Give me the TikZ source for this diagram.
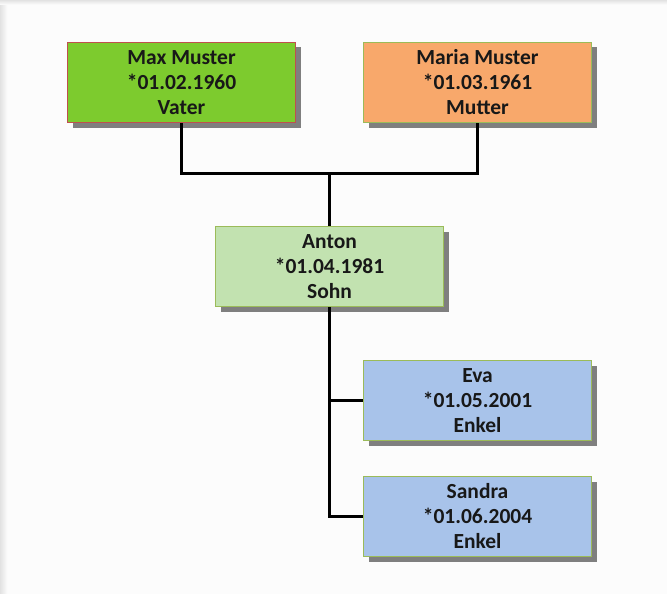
\documentclass[tikz,border=0pt]{standalone}
\usepackage{fontspec}
\setmainfont{Carlito}
\usetikzlibrary{shadows}
\definecolor{maxfill}{HTML}{7DCB2E}
\definecolor{maxdraw}{HTML}{C0504D}
\definecolor{mariafill}{HTML}{F8A86B}
\definecolor{boxdraw}{HTML}{9BBB59}
\definecolor{antonfill}{HTML}{C2E2B0}
\definecolor{kidfill}{HTML}{A8C3EA}
\definecolor{shadowgray}{HTML}{7F7F7F}
\definecolor{txt}{HTML}{181818}
\definecolor{edgegray}{HTML}{E2E2E2}
\begin{document}
\begin{tikzpicture}[x=1pt,y=-1pt,
  person/.style={draw, line width=1.4pt, minimum width=228pt, minimum height=80pt,
    inner sep=0pt, align=center, text=txt,
    font=\fontsize{21.5}{25}\selectfont\bfseries,
    drop shadow={shadow xshift=5pt, shadow yshift=-5pt, fill=shadowgray, opacity=1}},
  link/.style={line width=3pt, black}]
\useasboundingbox (0,0) rectangle (667,594);
\fill[white!99!black] (0,0) rectangle (667,594);
\shade[left color=edgegray, right color=white] (0,0) rectangle (8,594);
\shade[top color=edgegray, bottom color=white] (0,0) rectangle (667,5);
\node[person, fill=maxfill, draw=maxdraw] (max) at (181.5,82.5) {Max Muster\\*01.02.1960\\Vater};
\node[person, fill=mariafill, draw=boxdraw] (maria) at (477.5,82.5) {Maria Muster\\*01.03.1961\\Mutter};
\node[person, fill=antonfill, draw=boxdraw] (anton) at (329.5,266.5) {Anton\\*01.04.1981\\Sohn};
\node[person, fill=kidfill, draw=boxdraw] (eva) at (477.5,400.5) {Eva\\*01.05.2001\\Enkel};
\node[person, fill=kidfill, draw=boxdraw] (sandra) at (477.5,516.5) {Sandra\\*01.06.2004\\Enkel};
\coordinate (j) at (329.5,173);
\draw[link] (max.south) |- (j) -| (maria.south);
\draw[link] (j) -- (anton.north);
\draw[link] (anton.south) |- (eva.west);
\draw[link] (anton.south) |- (sandra.west);
\end{tikzpicture}
\end{document}
